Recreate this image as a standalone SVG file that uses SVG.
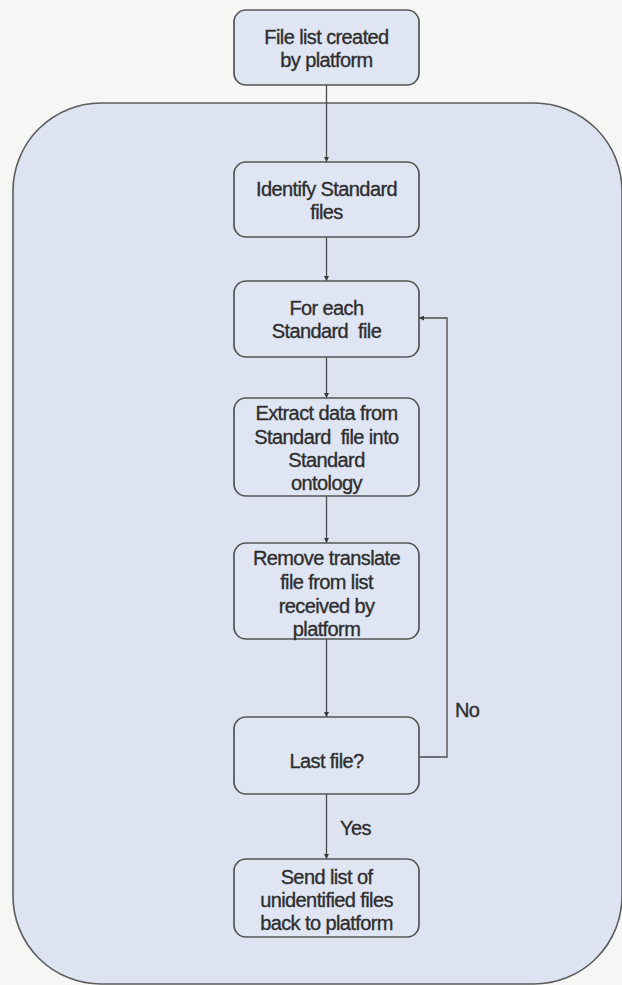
<svg xmlns="http://www.w3.org/2000/svg" width="622" height="985" viewBox="0 0 622 985">
  <defs>
    <style>
      .bg { fill: #f6f6f5; }
      .container { fill: #dde3f1; stroke: #5d5d5d; stroke-width: 1.6; }
      .box { fill: #dfe5f3; stroke: #555; stroke-width: 1.7; }
      .lbl { font-family: "Liberation Sans", Arial, sans-serif; font-size: 20px; fill: #2e2e2e; stroke: #2e2e2e; stroke-width: 0.35; text-anchor: middle; letter-spacing: -0.6px; }
      .edge-lbl { font-family: "Liberation Sans", Arial, sans-serif; font-size: 20px; fill: #2e2e2e; stroke: #2e2e2e; stroke-width: 0.35; letter-spacing: -0.6px; }
      .conn { fill: none; stroke: #4a4a4a; stroke-width: 1.3; }
    </style>
    <marker id="arrow" viewBox="0 0 8 8" refX="8" refY="4" markerWidth="5" markerHeight="5" orient="auto" markerUnits="userSpaceOnUse">
      <path d="M0,0 L8,4 L0,8 z" fill="#3a3a3a"/>
    </marker>
  </defs>

  <rect class="bg" x="0" y="0" width="622" height="985"/>

  <!-- Enclosing process region -->
  <g id="process-region">
    <rect class="container" x="13" y="103" width="609" height="881" rx="88" ry="88"/>
  </g>

  <!-- Connectors -->
  <g id="connectors">
    <line class="conn" x1="326.5" y1="85" x2="326.5" y2="162" marker-end="url(#arrow)"/>
    <line class="conn" x1="326.5" y1="237" x2="326.5" y2="281" marker-end="url(#arrow)"/>
    <line class="conn" x1="326.5" y1="357" x2="326.5" y2="398" marker-end="url(#arrow)"/>
    <line class="conn" x1="326.5" y1="496" x2="326.5" y2="543" marker-end="url(#arrow)"/>
    <line class="conn" x1="326.5" y1="639" x2="326.5" y2="717" marker-end="url(#arrow)"/>
    <line class="conn" x1="326.5" y1="794" x2="326.5" y2="859" marker-end="url(#arrow)"/>
    <polyline class="conn" points="419,757 447,757 447,318 419,318" marker-end="url(#arrow)"/>
    <text class="edge-lbl" x="455" y="717">No</text>
    <text class="edge-lbl" x="340" y="835">Yes</text>
  </g>

  <g id="n-file-list">
    <rect class="box" x="234" y="10" width="185" height="75" rx="12"/>
    <text class="lbl" x="326.5" y="44">File list created</text>
    <text class="lbl" x="326.5" y="67">by platform</text>
  </g>

  <g id="n-identify">
    <rect class="box" x="234" y="162" width="185" height="75" rx="12"/>
    <text class="lbl" x="326.5" y="196">Identify Standard</text>
    <text class="lbl" x="326.5" y="219">files</text>
  </g>

  <g id="n-for-each">
    <rect class="box" x="234" y="281" width="185" height="76" rx="12"/>
    <text class="lbl" x="326.5" y="315">For each</text>
    <text class="lbl" x="326.5" y="338" xml:space="preserve">Standard  file</text>
  </g>

  <g id="n-extract">
    <rect class="box" x="234" y="398" width="185" height="98" rx="12"/>
    <text class="lbl" x="326.5" y="420">Extract data from</text>
    <text class="lbl" x="326.5" y="444" xml:space="preserve">Standard  file into</text>
    <text class="lbl" x="326.5" y="467">Standard</text>
    <text class="lbl" x="326.5" y="490">ontology</text>
  </g>

  <g id="n-remove">
    <rect class="box" x="234" y="543" width="185" height="96" rx="12"/>
    <text class="lbl" x="326.5" y="565">Remove translate</text>
    <text class="lbl" x="326.5" y="589">file from list</text>
    <text class="lbl" x="326.5" y="613">received by</text>
    <text class="lbl" x="326.5" y="636">platform</text>
  </g>

  <g id="n-last-file">
    <rect class="box" x="234" y="717" width="185" height="77" rx="12"/>
    <text class="lbl" x="326.5" y="768">Last file?</text>
  </g>

  <g id="n-send-list">
    <rect class="box" x="234" y="859" width="185" height="78" rx="12"/>
    <text class="lbl" x="326.5" y="884">Send list of</text>
    <text class="lbl" x="326.5" y="907">unidentified files</text>
    <text class="lbl" x="326.5" y="930">back to platform</text>
  </g>
</svg>
